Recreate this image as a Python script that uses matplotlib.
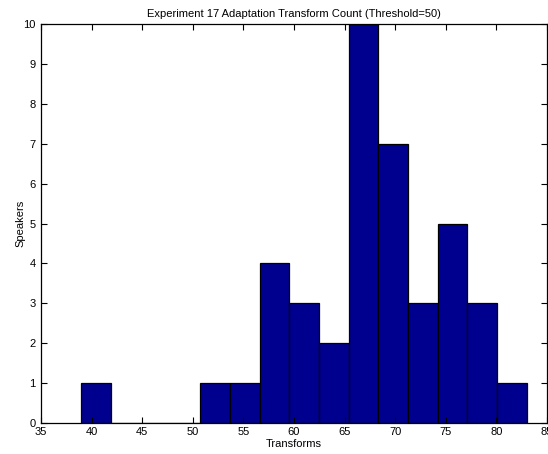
import numpy as np
import matplotlib
matplotlib.use("Agg")
import matplotlib.pyplot as plt

# Data (15 bins between 39 and 83)
bin_edges = [39.0, 41.93, 44.87, 47.8, 50.73, 53.67, 56.6, 59.53,
             62.47, 65.4, 68.33, 71.27, 74.2, 77.13, 80.07, 83.0]
counts = [1, 0, 0, 0, 1, 1, 4, 3, 2, 10, 7, 3, 5, 3, 1]
x_ticks = [35, 40, 45, 50, 55, 60, 65, 70, 75, 80, 85]
y_ticks = [0, 1, 2, 3, 4, 5, 6, 7, 8, 9, 10]
title = "Experiment 17 Adaptation Transform Count (Threshold=50)"
xlabel = "Transforms"
ylabel = "Speakers"

plt.rcParams['font.family'] = ['Liberation Sans', 'DejaVu Sans']

fig = plt.figure(figsize=(5.48, 4.54), dpi=100)
ax = fig.add_axes([41/548, 1-423/454, (547-41)/548, (423-24)/454])

edges = np.array(bin_edges)
ax.bar(edges[:-1], counts, width=np.diff(edges), align='edge',
       color=(0, 0, 0.5625), edgecolor='black', linewidth=0.9)

ax.set_xlim(35, 85)
ax.set_ylim(0, 10)
ax.set_xticks(x_ticks)
ax.set_yticks(y_ticks)
ax.tick_params(direction='in', top=True, right=True, length=4, width=0.8,
               labelsize=8)
ax.tick_params(axis='x', pad=3)
ax.tick_params(axis='y', pad=4)
for s in ax.spines.values():
    s.set_linewidth(0.9)
ax.set_title(title, fontsize=8, pad=5)
ax.set_xlabel(xlabel, fontsize=8, labelpad=1)
ax.set_ylabel(ylabel, fontsize=8, labelpad=-2)

fig.savefig("out.png", dpi=100)
